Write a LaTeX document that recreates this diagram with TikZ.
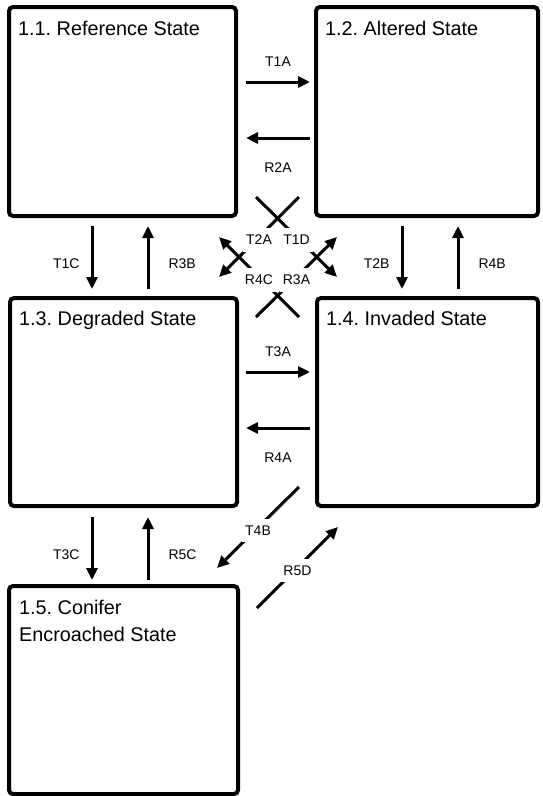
\documentclass[tikz,border=0pt]{standalone}
\usepackage{fontspec}
\setmainfont{Liberation Sans}
\usetikzlibrary{arrows.meta,positioning}
\frenchspacing

\begin{document}
\begin{tikzpicture}[x=1pt, y=-1pt,
  statebox/.style={draw, line width=4pt, rounded corners=4pt, anchor=north west, inner sep=0pt},
  title/.style={anchor=north west, inner sep=0pt, align=left, font=\fontsize{19.8}{27}\selectfont},
  arrow/.style={-{Triangle[length=12pt, width=11pt]}, line width=3pt},
  lbl/.style={inner sep=0pt, font=\fontsize{14}{16}\selectfont},
  gap/.style={fill=white, inner xsep=3pt, inner ysep=7pt, yshift=-3pt}
]
\useasboundingbox (0,0) rectangle (542,796);

% states
\node[statebox, minimum width=227pt, minimum height=209pt] (ref) at (7,5) {};
\node[statebox, minimum width=222pt, minimum height=209pt] (alt) at (314,5) {};
\node[statebox, minimum width=227pt, minimum height=208pt] (deg) at (8,296) {};
\node[statebox, minimum width=221pt, minimum height=208pt] (inv) at (315,296) {};
\node[statebox, minimum width=229pt, minimum height=208pt] (con) at (7,584) {};

\node[title] (ref title) at ([shift={(11,16)}]ref.north west) {1.1. Reference State};
\node[title] (alt title) at ([shift={(11,16)}]alt.north west) {1.2. Altered State};
\node[title] (deg title) at ([shift={(11,15)}]deg.north west) {1.3. Degraded State};
\node[title] (inv title) at ([shift={(11,15)}]inv.north west) {1.4. Invaded State};
\node[title] (con title) at ([shift={(12,16)}]con.north west) {1.5. Conifer\\Encroached State};

% horizontal transitions
\draw[arrow] ([shift={(8,77)}]ref.north east) -- node[lbl, above=14pt] (t1a) {T1A} ([shift={(-4,77)}]alt.north west);
\draw[arrow] ([shift={(-4,133)}]alt.north west) -- node[lbl, below=23pt] (r2a) {R2A} ([shift={(8,133)}]ref.north east);
\draw[arrow] ([shift={(7,76)}]deg.north east) -- node[lbl, above=14pt] (t3a) {T3A} ([shift={(-5,76)}]inv.north west);
\draw[arrow] ([shift={(-5,132)}]inv.north west) -- node[lbl, below=23pt] (r4a) {R4A} ([shift={(7,132)}]deg.north east);

% vertical transitions
\draw[arrow] ([shift={(85,8)}]ref.south west) -- node[lbl, left=11pt, yshift=-6pt] (t1c) {T1C} ([shift={(84,-7)}]deg.north west);
\draw[arrow] ([shift={(140,-7)}]deg.north west) -- node[lbl, right=19pt, yshift=-6pt] (r3b) {R3B} ([shift={(141,8)}]ref.south west);
\draw[arrow] ([shift={(88,8)}]alt.south west) -- node[lbl, left=11pt, yshift=-6pt] (t2b) {T2B} ([shift={(87,-7)}]inv.north west);
\draw[arrow] ([shift={(143,-7)}]inv.north west) -- node[lbl, right=19pt, yshift=-6pt] (r4b) {R4B} ([shift={(144,8)}]alt.south west);
\draw[arrow] ([shift={(84,9)}]deg.south west) -- node[lbl, left=11pt, yshift=-6pt] (t3c) {T3C} ([shift={(85,-4)}]con.north west);
\draw[arrow] ([shift={(141,-4)}]con.north west) -- node[lbl, right=19pt, yshift=-6pt] (r5c) {R5C} ([shift={(140,9)}]deg.south west);

% diagonal transitions
\draw[arrow] ([shift={(-15,-21)}]alt.south west) -- node[lbl, gap] (t2a) {T2A} ([shift={(-20,-19)}]deg.north east);
\draw[arrow] ([shift={(18,-21)}]ref.south east) -- node[lbl, gap] (t1d) {T1D} ([shift={(22,-19)}]inv.north west);
\draw[arrow] ([shift={(-16,21)}]inv.north west) -- node[lbl, gap] (r4c) {R4C} ([shift={(-19,19)}]ref.south east);
\draw[arrow] ([shift={(17,21)}]deg.north east) -- node[lbl, gap] (r3a) {R3A} ([shift={(23,19)}]alt.south west);
\draw[arrow] ([shift={(-16,-21)}]inv.south west) -- node[lbl, gap] (t4b) {T4B} ([shift={(-23,-16)}]con.north east);
\draw[arrow] ([shift={(17,24)}]con.north east) -- node[lbl, gap] (r5d) {R5D} ([shift={(23,19)}]inv.south west);
\end{tikzpicture}
\end{document}
